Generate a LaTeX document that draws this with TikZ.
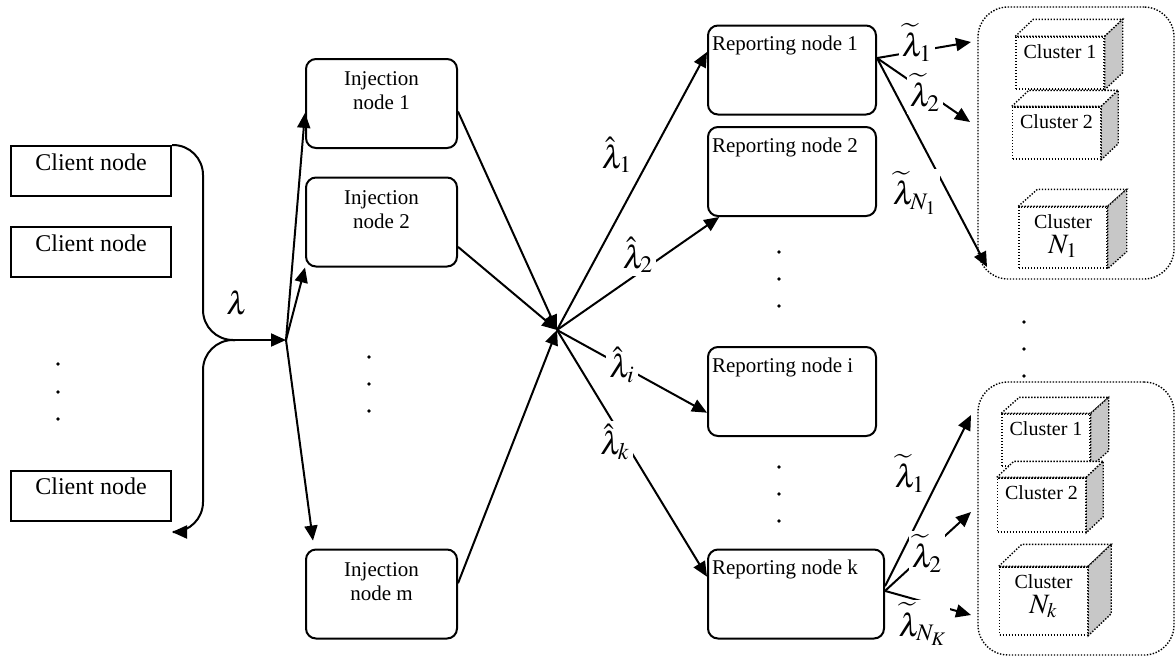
\documentclass[tikz,border=0pt]{standalone}
\usepackage{mathptmx}
\usepackage{fontspec}
\setmainfont{Liberation Serif}
\usetikzlibrary{arrows.meta}

\begin{document}
\begin{tikzpicture}[x=0.5pt,y=0.5pt,yscale=-1,xscale=1,line width=1pt,
  flow/.style={-{Triangle[length=7.5pt,width=6.5pt]}},
  clientbox/.style={draw,minimum width=80pt,minimum height=25pt,inner sep=0pt},
  clienttext/.style={anchor=north,inner sep=3.8pt,font=\fontsize{12}{14}\selectfont},
  injbox/.style={draw,rounded corners=5pt,minimum width=75.5pt,minimum height=44.5pt,inner sep=0pt},
  injtext/.style={anchor=north,align=center,inner sep=6.3pt,font=\fontsize{10.5}{12}\selectfont},
  repbox/.style={draw,rounded corners=5pt,minimum width=84pt,minimum height=44.5pt,inner sep=0pt},
  reptext/.style={anchor=north west,inner xsep=2pt,inner ysep=5.3pt,font=\fontsize{10.5}{12}\selectfont},
  dotline/.style={line width=0.7pt,dash pattern=on 0.7pt off 0.8pt},
  groupbox/.style={draw,dotline,rounded corners=15pt,minimum width=98pt,minimum height=136pt,inner sep=0pt},
  clusterbox/.style={draw,dotline,fill=white,minimum width=44pt,inner sep=0pt},
  clustertext/.style={anchor=north,align=center,inner sep=3.5pt,font=\fontsize{10}{12.5}\selectfont},
  rate/.style={fill=white,inner sep=1.5pt,font=\fontsize{16}{18}\selectfont},
]
\useasboundingbox (0,0) rectangle (1176,659);

%Client nodes
\node[clientbox] (c1) at (91,171) {};
\node[clientbox] (c2) at (91,252) {};
\node[clientbox] (c3) at (91,495.5) {};
\foreach \n in {c1,c2,c3}
  \node[clienttext] (\n-t) at (\n.north) {Client node};
\foreach \y in {364,392,419}
  \fill (58,\y) circle (0.9pt);

%Injection nodes
\node[injbox] (inj1) at (381.5,103.5) {};
\node[injbox] (inj2) at (381.5,222) {};
\node[injbox] (injm) at (381.5,594) {};
\node[injtext] (inj1-t) at (inj1.north) {Injection\\node 1};
\node[injtext] (inj2-t) at (inj2.north) {Injection\\node 2};
\node[injtext] (injm-t) at (injm.north) {Injection\\node m};
\foreach \y in {357,384,411}
  \fill (369,\y) circle (0.9pt);

%Reporting nodes
\node[repbox] (rep1) at (792,70) {};
\node[repbox] (rep2) at (792,171.5) {};
\node[repbox] (repi) at (792,391.5) {};
\node[repbox,minimum width=88pt] (repk) at (796,594) {};
\node[reptext] (rep1-t) at (rep1.north west) {Reporting node 1};
\node[reptext] (rep2-t) at (rep2.north west) {Reporting node 2};
\node[reptext] (repi-t) at (repi.north west) {Reporting node i};
\node[reptext] (repk-t) at (repk.north west) {Reporting node k};
\foreach \y in {252,279,306,467,494,521}
  \fill (779,\y) circle (0.9pt);

%Cluster groups
\node[groupbox] (grp1) at (1076,143) {};
\node[groupbox,minimum height=136.5pt] (grpk) at (1076,518.5) {};
\foreach \y in {322,349,376}
  \fill (1024,\y) circle (0.9pt);

%Clusters (front face, top and shaded side)
\foreach \c/\x/\y/\h/\dx/\dy in {cla/1060/63/26pt/18/17, clb/1056.5/133/26pt/17/16, cln/1063/237.5/30.5pt/19/17,
                                 cka/1046/440/26pt/18/16, ckb/1041.5/505/27pt/17/16, ckn/1043.5/601/34pt/23/22}{
  \node[clusterbox,minimum height=\h] (\c) at (\x,\y) {};
  \filldraw[dotline,fill=white] (\c.north west) -- ++(\dx,-\dy) -- ([shift={(\dx,-\dy)}]\c.north east) -- (\c.north east) -- cycle;
  \filldraw[dotline,fill=black!22] (\c.north east) -- ++(\dx,-\dy) -- ([shift={(\dx,-\dy)}]\c.south east) -- (\c.south east) -- cycle;
}
\node[clustertext] (cla-t) at (cla.north) {Cluster 1};
\node[clustertext] (clb-t) at (clb.north) {Cluster 2};
\node[clustertext] (cln-t) at (cln.north) {Cluster\\{\fontsize{14}{14}\selectfont$N_1$}};
\node[clustertext] (cka-t) at (cka.north) {Cluster 1};
\node[clustertext] (ckb-t) at (ckb.north) {Cluster 2};
\node[clustertext] (ckn-t) at (ckn.north) {Cluster\\{\fontsize{14}{14}\selectfont$N_k$}};

%Client to injection
\coordinate (merge) at (235,340);
\coordinate (ret) at (172,532);
\coordinate (fan) at (286,340);
\coordinate (hub) at (557,330);
\draw[rounded corners=15pt] (c1.north east) -| (203,340) -- (merge);
\draw[flow,rounded corners=15pt] (merge) -| (203,532) -- (ret);
\draw[flow] (merge) -- (fan);
\node[rate,fill=none] (lam) at (237,303) {$\lambda$};
\draw[flow] (fan) -- (inj1.187);
\draw[flow] (fan) -- (inj2.south west);
\draw[flow,shorten >=4pt] (fan) -- (injm.146);

%Injection to reporting
\draw[flow] (inj1.-6) -- (hub);
\draw[flow] (inj2.-18) -- (hub);
\draw[flow] (injm.8) -- (hub);
\draw[flow] (hub) -- (rep1.168);
\draw[flow] (hub) -- (rep2.212);
\draw[flow] (hub) -- (repi.194);
\draw[flow] (hub) -- (repk.169);
\node[rate] (h1) at (617,155) {$\hat{\lambda}_1$};
\node[rate] (h2) at (638,255) {$\hat{\lambda}_2$};
\node[rate] (hi) at (622,365) {$\hat{\lambda}_i$};
\node[rate] (hk) at (615,442) {$\hat{\lambda}_k$};

%Reporting to clusters
\coordinate (e11) at (971,42);
\coordinate (e12) at (970,122);
\coordinate (e1n) at (987,267);
\coordinate (ek1) at (971,415);
\coordinate (ek2) at (971,512);
\coordinate (ekn) at (971,615);
\draw[flow] (rep1.8) -- (e11);
\draw[flow] (rep1.8) -- (e12);
\draw[flow] (rep1.8) -- (e1n);
\draw[flow] (repk.5) -- (ek1);
\draw[flow] (repk.2) -- (ek2);
\draw[flow] (repk.2) -- (ekn);
\node[rate] (w11) at (917,42) {$\widetilde{\lambda}_1$};
\node[rate] (w12) at (925,92) {$\widetilde{\lambda}_2$};
\node[rate] (w1n) at (915,193) {$\widetilde{\lambda}_{N_1}$};
\node[rate] (wk1) at (910,473) {$\widetilde{\lambda}_1$};
\node[rate] (wk2) at (927,553) {$\widetilde{\lambda}_2$};
\node[rate] (wkn) at (923,624) {$\widetilde{\lambda}_{N_K}$};

\end{tikzpicture}
\end{document}
